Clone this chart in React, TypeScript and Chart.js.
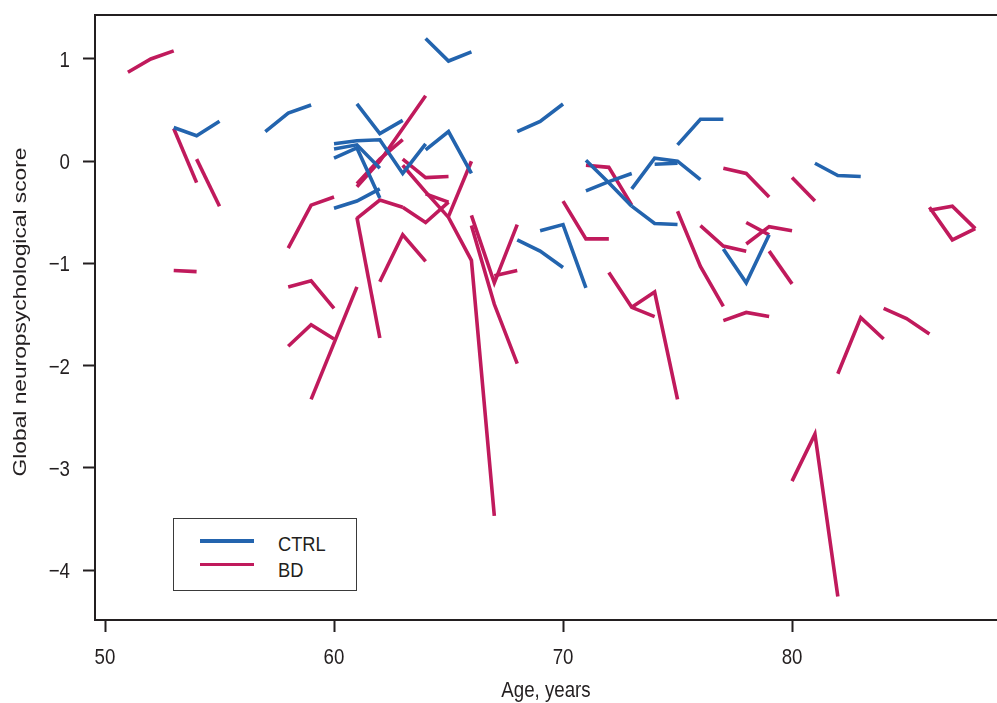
import React, { useEffect, useRef } from "react";
import { Chart, registerables } from "chart.js";

Chart.register(...registerables);

// ---- data ----
const xTicks = [50, 60, 70, 80];
const yTicks = [1, 0, -1, -2, -3, -4];
const groupNames = ["CTRL", "BD"];

const ctrlAges: number[][] = [
  [53, 54, 55],
  [57, 58, 59],
  [60, 61, 62, 63, 64],
  [60, 61, 62],
  [60, 61, 62],
  [60, 61, 62],
  [61, 62, 63],
  [64, 65, 66],
  [64, 65, 66],
  [68, 69, 70],
  [68, 69, 70],
  [69, 70, 71],
  [71, 72, 73],
  [73, 74, 75],
  [71, 72, 73],
  [73, 74, 75, 76],
  [74, 75],
  [75, 76, 77],
  [77, 78, 79],
  [81, 82, 83],
];
const ctrlScores: number[][] = [
  [0.33, 0.25, 0.39],
  [0.29, 0.47, 0.55],
  [0.17, 0.2, 0.21, -0.12, 0.17],
  [0.12, 0.16, -0.07],
  [0.03, 0.13, -0.36],
  [-0.46, -0.39, -0.27],
  [0.56, 0.27, 0.4],
  [1.2, 0.98, 1.07],
  [0.11, 0.29, -0.12],
  [0.29, 0.39, 0.56],
  [-0.77, -0.88, -1.04],
  [-0.68, -0.62, -1.24],
  [0.01, -0.21, -0.44],
  [-0.44, -0.61, -0.62],
  [-0.29, -0.2, -0.12],
  [-0.27, 0.03, 0.0, -0.18],
  [-0.03, -0.02],
  [0.16, 0.41, 0.41],
  [-0.86, -1.19, -0.72],
  [-0.02, -0.14, -0.15],
];

const bdAges: number[][] = [
  [51, 52, 53],
  [53, 54],
  [54, 55],
  [53, 54],
  [58, 59, 60],
  [58, 59, 60],
  [58, 59, 60],
  [59, 61],
  [61, 62],
  [61, 62, 63, 64],
  [61, 62, 63],
  [61, 62, 63],
  [63, 64, 65],
  [62, 63, 64],
  [63, 64, 65],
  [63, 64, 65, 66, 67],
  [64, 65],
  [65, 66],
  [66, 67, 68],
  [66, 67, 68],
  [67, 68],
  [70, 71, 72],
  [71, 72, 73],
  [72, 73, 74],
  [73, 74, 75],
  [75, 76, 77],
  [76, 77, 78],
  [77, 78, 79],
  [77, 78, 79],
  [78, 79],
  [78, 79, 80],
  [79, 80],
  [80, 81],
  [80, 81, 82],
  [82, 83, 84],
  [84, 85, 86],
  [86, 87, 88],
  [86, 87, 88],
];
const bdScores: number[][] = [
  [0.87, 1.0, 1.08],
  [0.32, -0.21],
  [0.02, -0.44],
  [-1.07, -1.08],
  [-0.85, -0.43, -0.35],
  [-1.23, -1.17, -1.44],
  [-1.81, -1.6, -1.74],
  [-2.33, -1.23],
  [-0.55, -1.73],
  [-0.25, 0.0, 0.32, 0.64],
  [-0.22, 0.02, 0.21],
  [-0.56, -0.38, -0.45],
  [-0.45, -0.6, -0.4],
  [-1.18, -0.72, -0.98],
  [0.02, -0.16, -0.15],
  [-0.04, -0.3, -0.55, -0.97, -3.47],
  [-0.32, -0.4],
  [-0.54, 0.0],
  [-0.53, -1.19, -0.62],
  [-0.63, -1.4, -1.98],
  [-1.12, -1.07],
  [-0.39, -0.76, -0.76],
  [-0.04, -0.06, -0.43],
  [-1.09, -1.43, -1.52],
  [-1.43, -1.28, -2.33],
  [-0.49, -1.03, -1.42],
  [-0.63, -0.83, -0.88],
  [-0.07, -0.12, -0.35],
  [-1.56, -1.48, -1.52],
  [-0.6, -0.72],
  [-0.81, -0.64, -0.68],
  [-0.88, -1.2],
  [-0.16, -0.39],
  [-3.13, -2.67, -4.26],
  [-2.08, -1.53, -1.74],
  [-1.44, -1.54, -1.69],
  [-0.48, -0.44, -0.66],
  [-0.45, -0.77, -0.66],
];

const xLabel = "Age, years";
const yLabel = "Global neuropsychological score";

// ---- styles ----
const CTRL_COLOR = "#2364ae";
const BD_COLOR = "#c01a5c";
const INK = "#231f20";
const SANS = '"Liberation Sans", Arial, Helvetica, sans-serif';
const SQUEEZE = 0.85;

function buildDatasets(
  ages: number[][],
  scores: number[][],
  color: string,
  name: string
) {
  return ages.map((a, i) => ({
    label: name + " " + (i + 1),
    data: a.map((age, j) => ({ x: age, y: scores[i][j] })),
    borderColor: color,
    backgroundColor: color,
    borderWidth: 3.6,
    pointRadius: 0,
    pointHoverRadius: 0,
    fill: false,
    tension: 0,
  }));
}

function fmtY(v: number) {
  return v < 0 ? "\u2212" + Math.abs(v) : String(v);
}

// condensed text helper (the reference uses a narrow face)
function squeezedText(
  ctx: CanvasRenderingContext2D,
  text: string,
  x: number,
  y: number,
  align: "left" | "right" | "center",
  size: number
) {
  ctx.save();
  ctx.translate(x, y);
  ctx.scale(SQUEEZE, 1);
  ctx.font = size + "px " + SANS;
  ctx.fillStyle = INK;
  ctx.textAlign = align;
  ctx.textBaseline = "alphabetic";
  ctx.fillText(text, 0, 0);
  ctx.restore();
}

const framePlugin = {
  id: "frameTop",
  afterDraw(chart: any) {
    const { ctx, chartArea } = chart;
    ctx.save();
    ctx.strokeStyle = INK;
    ctx.lineWidth = 2;
    ctx.beginPath();
    ctx.moveTo(chartArea.left - 1, chartArea.top);
    ctx.lineTo(chartArea.right + 2, chartArea.top);
    ctx.stroke();
    ctx.restore();
  },
};

const labelsPlugin = {
  id: "axisLabels",
  afterDraw(chart: any) {
    const { ctx, scales, chartArea } = chart;
    const xs = scales.x;
    const ys = scales.y;
    // x tick labels
    xTicks.forEach((v) => {
      squeezedText(ctx, String(v), xs.getPixelForValue(v), 664, "center", 22);
    });
    // y tick labels
    yTicks.forEach((v) => {
      squeezedText(ctx, fmtY(v), 70, ys.getPixelForValue(v) + 8, "right", 22);
    });
    // x title
    squeezedText(
      ctx,
      xLabel,
      (chartArea.left + chartArea.right) / 2,
      697,
      "center",
      22
    );
    // y title (rotated, elongated like the reference)
    ctx.save();
    ctx.translate(21, 312);
    ctx.rotate(-Math.PI / 2);
    ctx.scale(1.23, 1);
    ctx.font = "18.5px " + SANS;
    ctx.fillStyle = INK;
    ctx.textAlign = "center";
    ctx.textBaseline = "middle";
    ctx.fillText(yLabel, 0, 0);
    ctx.restore();
  },
};

export default function App() {
  const canvasRef = useRef<HTMLCanvasElement | null>(null);

  useEffect(() => {
    if (!canvasRef.current) return;
    const datasets = [
      ...buildDatasets(ctrlAges, ctrlScores, CTRL_COLOR, groupNames[0]),
      ...buildDatasets(bdAges, bdScores, BD_COLOR, groupNames[1]),
    ];
    const tickGrid = {
      display: true,
      drawOnChartArea: false,
      drawTicks: true,
      tickLength: 12,
      tickWidth: 2,
      tickColor: INK,
    };
    const chart = new Chart(canvasRef.current, {
      type: "line",
      data: { datasets } as any,
      options: {
        animation: false,
        responsive: false,
        devicePixelRatio: 1,
        layout: { padding: { top: 15, right: 0, bottom: 0, left: 0 } },
        plugins: {
          legend: { display: false },
          tooltip: { enabled: false },
        },
        elements: { line: { borderCapStyle: "butt", borderJoinStyle: "miter" } },
        scales: {
          x: {
            type: "linear",
            min: 49.563,
            max: 88.95,
            afterBuildTicks: (s: any) => {
              s.ticks = xTicks.map((v) => ({ value: v }));
            },
            afterFit: (s: any) => {
              s.height = 83;
              s.paddingLeft = 0;
              s.paddingRight = 0;
            },
            grid: tickGrid,
            border: { display: true, color: INK, width: 2 },
            ticks: { display: false, autoSkip: false },
            title: { display: false },
          },
          y: {
            type: "linear",
            min: -4.489,
            max: 1.4305,
            afterBuildTicks: (s: any) => {
              s.ticks = yTicks.map((v) => ({ value: v }));
            },
            afterFit: (s: any) => {
              s.width = 95;
              s.paddingTop = 0;
              s.paddingBottom = 0;
            },
            grid: tickGrid,
            border: { display: true, color: INK, width: 2 },
            ticks: { display: false, autoSkip: false },
            title: { display: false },
          },
        },
      } as any,
      plugins: [framePlugin, labelsPlugin],
    });
    return () => chart.destroy();
  }, []);

  const legendText: React.CSSProperties = {
    position: "absolute",
    left: 278,
    fontFamily: SANS,
    fontSize: 21,
    lineHeight: "21px",
    color: INK,
    whiteSpace: "nowrap",
    transform: "scaleX(0.87)",
    transformOrigin: "left center",
  };

  return (
    <div
      style={{
        position: "absolute",
        left: 0,
        top: 0,
        width: 997,
        height: 703,
        background: "#ffffff",
        overflow: "hidden",
      }}
    >
      <canvas
        ref={canvasRef}
        width={997}
        height={703}
        style={{ width: 997, height: 703, display: "block" }}
      />
      <div
        style={{
          position: "absolute",
          left: 173,
          top: 518,
          width: 184,
          height: 73,
          boxSizing: "border-box",
          border: "1.5px solid #3a3a3a",
          background: "#ffffff",
        }}
      />
      <div
        style={{
          position: "absolute",
          left: 200,
          top: 538.5,
          width: 54,
          height: 4,
          background: CTRL_COLOR,
        }}
      />
      <div
        style={{
          position: "absolute",
          left: 200,
          top: 562.5,
          width: 54,
          height: 3.5,
          background: BD_COLOR,
        }}
      />
      <div style={{ ...legendText, top: 533 }}>{groupNames[0]}</div>
      <div style={{ ...legendText, top: 559 }}>{groupNames[1]}</div>
    </div>
  );
}
